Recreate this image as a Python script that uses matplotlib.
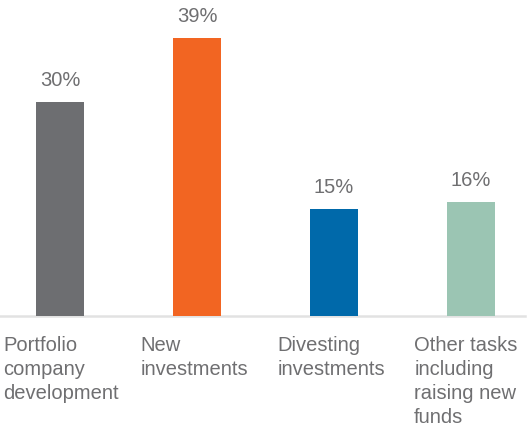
import matplotlib
matplotlib.use("Agg")
import matplotlib.pyplot as plt

categories = ["Portfolio\ncompany\ndevelopment", "New\ninvestments",
              "Divesting\ninvestments", "Other tasks\nincluding\nraising new\nfunds"]
values = [30, 39, 15, 16]
colors = ["#6d6e71", "#f26522", "#0069aa", "#9bc5b3"]

plt.rcParams['font.family'] = ['Liberation Sans', 'DejaVu Sans']
text_color = "#6f6f71"

fig = plt.figure(figsize=(5.32, 4.27), dpi=100)
ax = fig.add_axes([0, 0.2576, 0.987, 0.7424])

x = list(range(len(values)))
width = 0.35
ax.bar(x, values, width=width, color=colors, zorder=1)

ax.set_xlim(-0.438, 3.394)
ax.set_ylim(0, 44.46)

# value labels above the bars
for xi, v in zip(x, values):
    ax.annotate(f"{v}%", (xi, v), xytext=(0, 12.2), textcoords="offset points",
                ha="center", va="baseline", fontsize=14.5, color=text_color)

# category labels under the baseline
for xi, lab in zip(x, categories):
    ax.annotate(lab, (xi - 0.415, 0), xytext=(0, -13.6), textcoords="offset points",
                ha="left", va="top", fontsize=14.5, color=text_color,
                linespacing=1.33)

for s in ["top", "right", "left"]:
    ax.spines[s].set_visible(False)
ax.spines["bottom"].set_color("#e2e2e2")
ax.spines["bottom"].set_linewidth(1.8)
ax.spines["bottom"].set_zorder(0)
ax.set_xticks([])
ax.set_yticks([])

fig.savefig("out.png", dpi=100)
